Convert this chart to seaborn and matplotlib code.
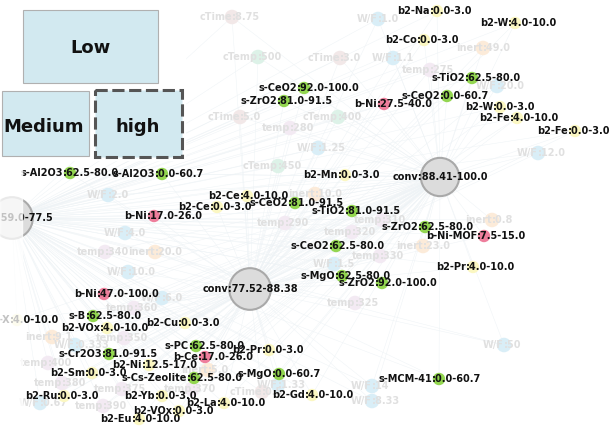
import pandas as pd
import matplotlib.pyplot as plt
import seaborn as sns
from matplotlib.patches import Rectangle

# main labelled nodes: label, colon x, y (pixel coords of the picture)
labels = ["b2-Na:0.0-3.0", "b2-W:4.0-10.0", "b2-Co:0.0-3.0", "s-TiO2:62.5-80.0", "s-CeO2:92.0-100.0",
          "s-ZrO2:81.0-91.5", "b-Ni:27.5-40.0", "s-CeO2:0.0-60.7", "b2-W:0.0-3.0", "b2-Fe:4.0-10.0",
          "b2-Fe:0.0-3.0", "b2-Mn:0.0-3.0", "s-CeO2:81.0-91.5", "s-TiO2:81.0-91.5", "s-ZrO2:62.5-80.0",
          "b2-Ce:4.0-10.0", "b2-Ce:0.0-3.0", "s-CeO2:62.5-80.0", "s-MgO:62.5-80.0", "s-ZrO2:92.0-100.0",
          "b-Ni-MOF:7.5-15.0", "b2-Pr:4.0-10.0", "s-MCM-41:0.0-60.7", "s-Al2O3:62.5-80.0", "s-Al2O3:0.0-60.7",
          "b-Ni:17.0-26.0", "b-Ni:47.0-100.0", "s-B:62.5-80.0", "b2-VOx:4.0-10.0", "b2-Cu:0.0-3.0",
          "s-PC:62.5-80.0", "b2-Pr:0.0-3.0", "s-Cr2O3:81.0-91.5", "b-Ce:17.0-26.0", "b2-Ni:12.5-17.0",
          "b2-Sm:0.0-3.0", "s-Cs-Zeolite:62.5-80.0", "s-MgO:0.0-60.7", "b2-Ru:0.0-3.0", "b2-Yb:0.0-3.0",
          "b2-La:4.0-10.0", "b2-VOx:0.0-3.0", "b2-Eu:4.0-10.0", "b2-Gd:4.0-10.0", "b2-X:4.0-10.0"]
node_x = [430, 508, 417, 465, 297, 277, 377, 440, 493, 510, 568, 338, 288, 345, 418, 240, 210, 329, 335, 375,
          477, 466, 432, 63, 155, 147, 97, 86, 100, 178, 189, 262, 102, 198, 142, 85, 187, 272, 57, 155,
          217, 172, 132, 305, 10]
node_y = [11, 23, 40, 78, 88, 101, 104, 96, 107, 118, 131, 175, 203, 211, 227, 196, 207, 246, 276, 283,
          236, 267, 379, 173, 174, 216, 294, 316, 328, 323, 346, 350, 354, 357, 365, 373, 378, 374, 396, 396,
          403, 411, 419, 395, 320]

conv_labels = ["conv:88.41-100.0", "conv:77.52-88.38", "conv:59.0-77.5"]
conv_x = [440, 250, 12]
conv_y = [177, 289, 218]

faded_labels = ["W/F:1.0", "inert:49.0", "cTemp:500", "cTime:3.0", "W/F:1.1", "temp:275", "W/F:20.0",
                "cTime:5.0", "cTemp:400", "temp:280", "W/F:1.25", "W/F:12.0", "cTemp:450", "inert:10.0",
                "temp:310", "inert:0.8", "temp:290", "temp:320", "inert:23.0", "temp:330", "W/F:1.5",
                "temp:325", "W/F:50", "W/F:2.0", "W/F:4.0", "temp:340", "inert:20.0", "W/F:10.0",
                "W/F:6.0", "temp:360", "inert:9.1", "W/F:0.333", "temp:350", "temp:400", "inert:5.0",
                "temp:380", "temp:375", "temp:370", "cTime:0.5", "W/F:1.33", "W/F:0.67", "temp:390",
                "W/F:14", "W/F:8.33", "cTime:8.75"]
faded_x = [378, 483, 258, 340, 393, 430, 497, 240, 338, 290, 318, 538, 278, 315, 382, 492, 285, 352, 423,
           380, 334, 355, 504, 108, 125, 105, 155, 128, 162, 134, 52, 75, 124, 48, 208, 62, 122, 192, 262,
           278, 40, 103, 372, 372, 232]
faded_y = [19, 48, 57, 58, 58, 70, 86, 117, 117, 128, 148, 153, 166, 194, 220, 220, 223, 232, 246, 256, 264,
           303, 345, 195, 233, 252, 252, 272, 298, 308, 337, 345, 338, 363, 370, 383, 389, 389, 392, 385, 403,
           406, 386, 401, 17]

green, pink, yellow = "#93d650", "#ee7e9c", "#fbf7c2"


def kind(lab):
    if lab.startswith("s-"):
        return "support"
    if lab.startswith("b-"):
        return "base"
    return "promoter"


nodes = pd.DataFrame({"label": labels, "x": [v + 7 for v in node_x], "y": node_y})
nodes["kind"] = nodes["label"].map(kind)
conv = pd.DataFrame({"label": conv_labels, "x": conv_x, "y": conv_y})
faded = pd.DataFrame({"label": faded_labels, "x": faded_x, "y": faded_y})
faded["kind"] = faded["label"].str.split(":").str[0]

sns.set_theme(style="white")
fig = plt.figure(figsize=(6.14, 4.29), dpi=100)
ax = fig.add_axes([0, 0, 1, 1])
ax.set_xlim(0, 614)
ax.set_ylim(429, 0)
ax.axis("off")

# faint edges from the conversion hubs
for _, c in conv.iterrows():
    for _, n in pd.concat([nodes, faded]).iterrows():
        ax.plot([c.x, n.x], [c.y, n.y], color="#eef3f6", lw=0.35, zorder=0)

fade_pal = {"W/F": "#d9eef7", "temp": "#f3eaf3", "inert": "#fcebd9", "cTemp": "#ddf2e8", "cTime": "#f2e8e8"}
sns.scatterplot(data=faded, x="x", y="y", hue="kind", palette=fade_pal, s=110, edgecolor="none",
                legend=False, ax=ax, zorder=1)
for _, r in faded.iterrows():
    a, b = r.label.split(":")
    ax.text(r.x, r.y, a, ha="right", va="center", fontsize=7, weight="bold", color="#e0e0e0", zorder=2)
    ax.text(r.x, r.y, ":" + b, ha="left", va="center", fontsize=7, weight="bold", color="#e0e0e0", zorder=2)

sns.scatterplot(data=conv, x="x", y="y", s=[760, 900, 900], color="#dcdcdc", edgecolor="#a9a9a9",
                linewidth=1.5, legend=False, ax=ax, zorder=3)
for _, r in conv.iterrows():
    ax.text(r.x, r.y, r.label, ha="center", va="center", fontsize=7, weight="bold", color="#111", zorder=6)

sns.scatterplot(data=nodes, x="x", y="y", hue="kind",
                palette={"support": green, "base": pink, "promoter": yellow},
                s=80, edgecolor="none", legend=False, ax=ax, zorder=4)
for _, r in nodes.iterrows():
    a, b = r.label.split(":")
    ax.text(r.x - 7, r.y, a, ha="right", va="center", fontsize=7, weight="bold", color="#111", zorder=6)
    ax.text(r.x - 7, r.y, ":" + b, ha="left", va="center", fontsize=7, weight="bold", color="#111", zorder=6)

# left edge fade
ax.add_patch(Rectangle((0, 0), 22, 429, color="white", alpha=0.75, zorder=7))

# inset with Low / Medium / high groups
ax.add_patch(Rectangle((0, 0), 185, 160, color="white", zorder=8))
ax.add_patch(Rectangle((23, 10), 135, 73, facecolor="#d2e9f0", edgecolor="#b0b0b0", lw=0.8, zorder=9))
ax.add_patch(Rectangle((2, 91), 87, 65, facecolor="#d2e9f0", edgecolor="#b0b0b0", lw=0.8, zorder=9))
ax.add_patch(Rectangle((95, 90), 87, 67, facecolor="#d2e9f0", edgecolor="#555555", lw=2.2,
                       ls=(0, (4, 1.5)), zorder=9))
ax.text(90, 48, "Low", ha="center", va="center", fontsize=13, weight="bold", color="#111", zorder=10)
ax.text(44, 127, "Medium", ha="center", va="center", fontsize=13, weight="bold", color="#111", zorder=10)
ax.text(138, 127, "high", ha="center", va="center", fontsize=13, weight="bold", color="#111", zorder=10)

fig.savefig("out.png", dpi=100)
